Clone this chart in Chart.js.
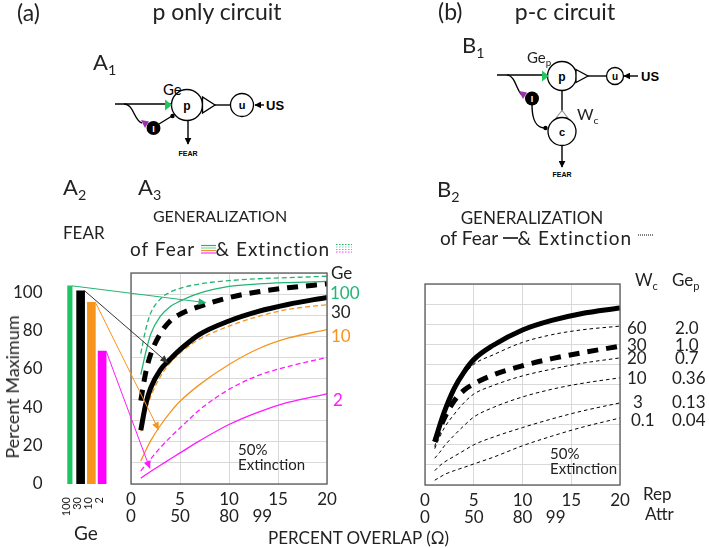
<!DOCTYPE html>
<html>
<head>
<meta charset="utf-8">
<script src="https://cdn.jsdelivr.net/npm/chart.js@4.4.1/dist/chart.umd.min.js"></script>
<style>
  body { margin: 0; background: #fff; }
  #page { position: relative; width: 709px; height: 548px; overflow: hidden; font-family: Lato, "Open Sans", sans-serif; color: #222; }
  #page canvas { position: absolute; }
  .t { position: absolute; white-space: nowrap; line-height: 1; }
  .c { transform: translateX(-50%); }
  .row { display: flex; align-items: center; }
  .wide { letter-spacing: 1px; }
  sub { font-size: 65%; vertical-align: -0.35em; line-height: 0; }
</style>
</head>
<body>
<div id="page">
  <!-- circuit diagrams -->
  <svg width="709" height="200" style="position:absolute;left:0;top:0" font-family="'Liberation Sans', Arial, sans-serif">
    <defs>
      <marker id="ah" viewBox="0 0 10 10" refX="9" refY="5" markerWidth="5" markerHeight="5" orient="auto">
        <path d="M0,0 L10,5 L0,10 z" fill="#000"/>
      </marker>
    </defs>
    <!-- A1 -->
    <g stroke="#000" stroke-width="1.4" fill="none">
      <path d="M115,104 H171"/>
      <path d="M124,104 C134,104 134,121 142,123"/>
      <path d="M159,124 L172,116"/>
      <path d="M215,105 H231"/>
      <path d="M188,121 V144" marker-end="url(#ah)"/>
      <path d="M264,105 H255" marker-end="url(#ah)"/>
    </g>
    <circle cx="187" cy="105" r="15.5" fill="#fff" stroke="#000" stroke-width="1.3"/>
    <path d="M202.5,97 L202.5,113 L215,105 Z" fill="#fff" stroke="#000" stroke-width="1.3"/>
    <circle cx="242" cy="105" r="11.5" fill="#fff" stroke="#000" stroke-width="1.3"/>
    <path d="M165,99.5 L172,105 L165,110.5 Z" fill="#22c55e"/>
    <path d="M141,120 L149,121.5 L145,128 Z" fill="#9b2fae"/>
    <circle cx="153.5" cy="128" r="7" fill="#000"/>
    <circle cx="172.5" cy="116" r="2.2" fill="#000"/>
    <text x="187" y="109.5" font-size="12" font-weight="bold" text-anchor="middle">p</text>
    <text x="242" y="109" font-size="11" font-weight="bold" text-anchor="middle">u</text>
    <text x="153.5" y="131.5" font-size="9" font-weight="bold" fill="#fff" text-anchor="middle">I</text>
    <text x="266" y="110" font-size="13" font-weight="bold">US</text>
    <text x="188" y="156" font-size="7" font-weight="bold" text-anchor="middle">FEAR</text>
    <text x="163" y="95" font-size="15" font-family="Lato, sans-serif">Ge</text>

    <!-- B1 -->
    <g stroke="#000" stroke-width="1.4" fill="none">
      <path d="M497,75 H548"/>
      <path d="M507,75 C515,75 517,92 522,95"/>
      <path d="M532,105 C532,122 537,127 544,128"/>
      <path d="M588,76 H607"/>
      <path d="M562,90.5 V112"/>
      <path d="M562,145 V167" marker-end="url(#ah)"/>
      <path d="M638,76 H624" marker-end="url(#ah)"/>
    </g>
    <circle cx="562" cy="76" r="14.5" fill="#fff" stroke="#000" stroke-width="1.3"/>
    <path d="M576,69.5 L576,82.5 L588,76 Z" fill="#fff" stroke="#000" stroke-width="1.3"/>
    <circle cx="615" cy="76" r="8.5" fill="#fff" stroke="#000" stroke-width="1.3"/>
    <path d="M556.5,117.5 L567.5,117.5 L562,110.5 Z" fill="#fff" stroke="#999" stroke-width="1.1"/>
    <circle cx="562" cy="131.5" r="14" fill="#fff" stroke="#000" stroke-width="1.3"/>
    <path d="M542,70.5 L549,76 L542,81.5 Z" fill="#22c55e"/>
    <path d="M519,91 L527,92.5 L523,99 Z" fill="#9b2fae"/>
    <circle cx="532" cy="98.5" r="7" fill="#000"/>
    <circle cx="545.5" cy="128" r="2.2" fill="#000"/>
    <text x="562" y="80.5" font-size="12" font-weight="bold" text-anchor="middle">p</text>
    <text x="615" y="80" font-size="10" font-weight="bold" text-anchor="middle">u</text>
    <text x="562" y="135.5" font-size="11" font-weight="bold" text-anchor="middle">c</text>
    <text x="532" y="102" font-size="9" font-weight="bold" fill="#fff" text-anchor="middle">I</text>
    <text x="641" y="81" font-size="13" font-weight="bold">US</text>
    <text x="562" y="177" font-size="7" font-weight="bold" text-anchor="middle">FEAR</text>
  </svg>

  <canvas id="barChart" width="110" height="285" style="left:0;top:263px"></canvas>
  <canvas id="pChart" width="255" height="293" style="left:112px;top:255px"></canvas>
  <canvas id="pcChart" width="240" height="282" style="left:405px;top:266px"></canvas>
  <canvas id="arrows" width="709" height="548" style="left:0;top:0"></canvas>

  <div class="t" style="left:17px;top:1px;font-size:23px">(a)</div>
  <div class="t c" style="left:217px;top:0;font-size:23px">p only circuit</div>
  <div class="t" style="left:438px;top:0;font-size:23px">(b)</div>
  <div class="t c" style="left:565px;top:0;font-size:23px">p-c circuit</div>
  <div class="t" style="left:93px;top:51px;font-size:22px">A<sub>1</sub></div>
  <div class="t" style="left:462px;top:34px;font-size:22px">B<sub>1</sub></div>
  <div class="t" style="left:527px;top:50px;font-size:15px">Ge<sub>p</sub></div>
  <div class="t" style="left:577px;top:106px;font-size:16px">W<sub>c</sub></div>
  <div class="t" style="left:63px;top:176px;font-size:22px">A<sub>2</sub></div>
  <div class="t" style="left:138px;top:176px;font-size:22px">A<sub>3</sub></div>
  <div class="t" style="left:437px;top:178px;font-size:22px">B<sub>2</sub></div>
  <div class="t" style="left:63px;top:224px;font-size:17px">FEAR</div>

  <div class="t c" style="left:220px;top:208px;font-size:16px">GENERALIZATION</div>
  <div class="t row" style="left:130px;top:239px;font-size:19px">
    <span class="wide">of Fear&nbsp;</span>
    <svg width="15" height="10"><g stroke-width="1.2"><path d="M0,1.5H15" stroke="#22b573"/><path d="M0,4H15" stroke="#7fd6b0"/><path d="M0,6.5H15" stroke="#f7941d"/><path d="M0,9H15" stroke="#ff33ff"/></g></svg>
    <span class="wide">&amp; Extinction&nbsp;</span>
    <svg width="16" height="12"><g stroke-width="1.2" stroke-dasharray="1.5 1.5"><path d="M0,1.5H16" stroke="#22b573"/><path d="M0,4H16" stroke="#7fd6b0"/><path d="M0,6.5H16" stroke="#f7941d"/><path d="M0,9H16" stroke="#ff33ff"/></g></svg>
  </div>
  <div class="t c" style="left:532px;top:209px;font-size:17px">GENERALIZATION</div>
  <div class="t row" style="left:440px;top:228px;font-size:19px">
    <span>of Fear&nbsp;</span>
    <svg width="15" height="6"><path d="M0,3H15" stroke="#000" stroke-width="1.5"/></svg>
    <span class="wide">&amp; Extinction&nbsp;</span>
    <svg width="15" height="10"><path d="M0,2H15" stroke="#000" stroke-width="1" stroke-dasharray="1 1"/></svg>
  </div>

  <div class="t" style="left:12px;top:387px;font-size:18px;transform:translate(-50%,-50%) rotate(-90deg)">Percent Maximum</div>

  <div class="t" style="left:331px;top:264px;font-size:17px">Ge</div>
  <div class="t" style="left:330px;top:284px;font-size:17px;color:#22b573">100</div>
  <div class="t" style="left:331px;top:303px;font-size:17px">30</div>
  <div class="t" style="left:331px;top:327px;font-size:17px;color:#f7941d">10</div>
  <div class="t" style="left:333px;top:391px;font-size:17px;color:#ff1aff">2</div>
  <div class="t" style="left:238px;top:442px;font-size:15px">50%</div>
  <div class="t" style="left:238px;top:457px;font-size:15px">Extinction</div>

  <div class="t" style="left:635px;top:271px;font-size:17px">W<sub>c</sub></div>
  <div class="t" style="left:672px;top:271px;font-size:17px">Ge<sub>p</sub></div>
  <div class="t" style="left:627px;top:319px;font-size:17px">60</div>
  <div class="t" style="left:627px;top:336px;font-size:17px">30</div>
  <div class="t" style="left:627px;top:349px;font-size:17px">20</div>
  <div class="t" style="left:627px;top:369px;font-size:17px">10</div>
  <div class="t" style="left:633px;top:393px;font-size:17px">3</div>
  <div class="t" style="left:631px;top:411px;font-size:17px">0.1</div>
  <div class="t" style="left:675px;top:319px;font-size:17px">2.0</div>
  <div class="t" style="left:675px;top:336px;font-size:17px">1.0</div>
  <div class="t" style="left:675px;top:349px;font-size:17px">0.7</div>
  <div class="t" style="left:672px;top:369px;font-size:17px">0.36</div>
  <div class="t" style="left:672px;top:393px;font-size:17px">0.13</div>
  <div class="t" style="left:672px;top:411px;font-size:17px">0.04</div>
  <div class="t" style="left:550px;top:446px;font-size:15px">50%</div>
  <div class="t" style="left:550px;top:461px;font-size:15px">Extinction</div>
  <div class="t" style="left:643px;top:485px;font-size:17px">Rep</div>
  <div class="t" style="left:645px;top:505px;font-size:17px">Attr</div>
  <div class="t" style="left:268px;top:529px;font-size:17px">PERCENT OVERLAP (Ω)</div>
</div>

<script>
  // A2: fear at the end of conditioning, one bar per Ge
  const geLabels = ['100', '30', '10', '2'];
  const fearPeak = [103.3, 100.7, 94.7, 69.3];
  const geColors = ['#1ec463', '#000000', '#f7941d', '#ff00ff'];
  const pctTicks = [0, 20, 40, 60, 80, 100];

  // shared x grid (percent overlap, Rep scale)
  const overlapRep = [1, 1.5, 2, 3, 4, 5, 7, 10, 13, 16, 20];
  const attrPos = [0, 5, 10, 13.4];
  const attrLabels = ['0', '50', '80', '99'];

  // A3: p only circuit, fear (solid) and extinction (dashed) per Ge
  const fearGe100 = [57, 68.5, 78, 87.5, 92.5, 95.3, 99.5, 103, 104.3, 105, 105.6];
  const extGe100  = [68, 80.5, 89, 96.5, 100, 102, 104.3, 106, 107, 107.6, 108.3];
  const fearGe30  = [28, 41.5, 50, 59.5, 65, 70, 78, 85, 90, 93.6, 97.3];
  const extGe30   = [43.5, 58, 67.5, 78.5, 85, 88.5, 92.6, 97.2, 100.2, 102.3, 104.3];
  const fearGe10  = [12, 17.5, 22.5, 30.5, 37.3, 43.1, 51.8, 62.3, 70.5, 76, 80.5];
  const extGe10   = [27.5, 37.8, 45.5, 56, 63.2, 68.3, 75.5, 82.3, 87.4, 91, 93.5];
  const fearGe2   = [3, 4.8, 6.5, 9.8, 13, 16.2, 22.5, 31, 37.5, 42.5, 47];
  const extGe2    = [6.8, 10, 13, 19, 24.3, 29.2, 38.7, 49.3, 56.6, 61.2, 66];

  // B2: p-c circuit, fear and extinction for each Wc
  const fearPC  = [22.6, 31, 38.5, 50.5, 59, 65.5, 73, 81, 86, 89.5, 92.5];
  const extWc30 = [22.6, 29, 35, 44, 49.5, 52.8, 57.5, 62.3, 66, 69, 72.5];
  const extWc60 = [20, 30, 38, 49, 57.5, 63, 68, 74.5, 78.5, 81, 83];
  const extWc20 = [19, 25, 30, 37, 43, 47.5, 52, 57, 60.5, 63.5, 66.4];
  const extWc10 = [14, 17, 20.5, 26, 31, 35.5, 40.5, 46, 50, 53, 56];
  const extWc3  = [7.5, 10, 12, 15, 18, 21, 25, 30, 34.5, 38.5, 42.9];
  const extWc01 = [2.5, 4, 5.5, 7.5, 9.2, 11, 14.5, 20.5, 25.5, 30, 35];

  // where each arrow from a bar lands on the A3 curves
  const arrowTargets = [[7.7, 94.5], [3.8, 63], [2.85, 28], [1.95, 7.8]];

  const curveGreen = '#22b573';
  const curveOrange = '#f7941d';
  const curveMagenta = '#ff1aff';
  const gridColor = '#d9d9d9';

  Chart.defaults.font.family = 'Lato, "Open Sans", sans-serif';
  Chart.defaults.color = '#222';

  // keep the plot boxes where the layout padding puts them
  function noPad(s) { s.paddingLeft = 0; s.paddingRight = 0; s.paddingTop = 0; s.paddingBottom = 0; }

  const frame = {
    id: 'frame',
    afterDraw(chart) {
      const a = chart.chartArea, ctx = chart.ctx;
      ctx.save();
      ctx.strokeStyle = '#5a5a5a';
      ctx.lineWidth = 1.3;
      ctx.strokeRect(a.left, a.top, a.right - a.left, a.bottom - a.top);
      ctx.restore();
    }
  };

  const baseOpts = {
    animation: false,
    responsive: false,
    events: [],
    plugins: { legend: { display: false }, tooltip: { enabled: false } }
  };

  const barChart = new Chart(document.getElementById('barChart'), {
    type: 'bar',
    data: {
      labels: geLabels,
      datasets: [
        { data: fearPeak.map((v, i) => i === 0 ? v : null), backgroundColor: geColors, barThickness: 4.5, grouped: false },
        { data: fearPeak.map((v, i) => i === 0 ? null : v), backgroundColor: geColors, barThickness: 8, grouped: false }
      ]
    },
    options: {
      ...baseOpts,
      layout: { padding: { top: 10, right: 2.5 } },
      scales: {
        x: {
          grid: { display: false },
          border: { display: false },
          ticks: { autoSkip: false, minRotation: 90, maxRotation: 90, padding: 5, labelOffset: -3, font: { size: 11 } },
          title: { display: true, text: 'Ge', font: { size: 19 }, padding: { top: 0, bottom: 3 } },
          afterFit: s => { s.height = 64; noPad(s); }
        },
        y: {
          min: 0, max: 110,
          grid: { display: false },
          border: { display: false },
          afterBuildTicks: s => { s.ticks = pctTicks.map(v => ({ value: v })); },
          ticks: { padding: 14, font: { size: 17 } },
          afterFit: s => { s.width = 64.5; noPad(s); }
        }
      }
    }
  });

  function curve(values, color, width, dash) {
    return {
      data: overlapRep.map((x, i) => ({ x: x, y: values[i] })),
      borderColor: color,
      borderWidth: width,
      borderDash: dash,
      pointRadius: 0,
      fill: false,
      cubicInterpolationMode: 'monotone'
    };
  }

  function overlapScales(yMax, yStep) {
    return {
      x: {
        type: 'linear', min: 0, max: 20, position: 'bottom',
        grid: { color: gridColor, drawTicks: false },
        border: { display: false },
        ticks: { stepSize: 5, padding: 7, maxRotation: 0, font: { size: 17, lineHeight: 1 } },
        afterFit: s => { s.height = 24; noPad(s); }
      },
      x2: {
        type: 'linear', min: 0, max: 20, position: 'bottom',
        grid: { display: false, drawTicks: false },
        border: { display: false },
        afterBuildTicks: s => { s.ticks = attrPos.map(v => ({ value: v })); },
        ticks: { autoSkip: false, padding: 0, maxRotation: 0, font: { size: 17, lineHeight: 1 }, callback: (v, i) => attrLabels[i] },
        afterFit: s => { s.height = 18; noPad(s); }
      },
      y: {
        min: 0, max: yMax,
        grid: { color: gridColor, drawTicks: false },
        border: { display: false },
        ticks: { display: false, stepSize: yStep },
        afterFit: s => { s.width = 0; noPad(s); }
      }
    };
  }

  const pChart = new Chart(document.getElementById('pChart'), {
    type: 'line',
    data: {
      datasets: [
        curve(fearGe30, '#000', 5, []),
        curve(extGe30, '#000', 5, [11, 8]),
        curve(fearGe100, curveGreen, 1.3, []),
        curve(extGe100, curveGreen, 1.3, [5, 3]),
        curve(fearGe10, curveOrange, 1.3, []),
        curve(extGe10, curveOrange, 1.3, [5, 3]),
        curve(fearGe2, curveMagenta, 1.3, []),
        curve(extGe2, curveMagenta, 1.3, [5, 3])
      ]
    },
    options: {
      ...baseOpts,
      layout: { padding: { left: 19, top: 18, right: 40, bottom: 22 } },
      scales: overlapScales(110, 11)
    },
    plugins: [frame]
  });

  const pcChart = new Chart(document.getElementById('pcChart'), {
    type: 'line',
    data: {
      datasets: [
        curve(fearPC, '#000', 5, []),
        curve(extWc30, '#000', 5, [11, 8]),
        curve(extWc60, '#000', 1, [3.5, 3]),
        curve(extWc20, '#000', 1, [3.5, 3]),
        curve(extWc10, '#000', 1, [3.5, 3]),
        curve(extWc3, '#000', 1, [3.5, 3]),
        curve(extWc01, '#000', 1, [3.5, 3])
      ]
    },
    options: {
      ...baseOpts,
      layout: { padding: { left: 20, top: 18, right: 25, bottom: 21 } },
      scales: overlapScales(105, 10.5)
    },
    plugins: [frame]
  });

  // arrows from each bar top to its curve in A3
  function drawArrows() {
    const ctx = document.getElementById('arrows').getContext('2d');
    const page = document.getElementById('page').getBoundingClientRect();
    const bBox = barChart.canvas.getBoundingClientRect();
    const lBox = pChart.canvas.getBoundingClientRect();
    const arrowColors = [curveGreen, '#333', curveOrange, curveMagenta];
    geLabels.forEach((g, i) => {
      const bar = barChart.getDatasetMeta(i === 0 ? 0 : 1).data[i];
      const x0 = bBox.left - page.left + bar.x + bar.width / 2;
      const y0 = bBox.top - page.top + bar.y;
      const x1 = lBox.left - page.left + pChart.scales.x.getPixelForValue(arrowTargets[i][0]);
      const y1 = lBox.top - page.top + pChart.scales.y.getPixelForValue(arrowTargets[i][1]);
      const ang = Math.atan2(y1 - y0, x1 - x0);
      ctx.strokeStyle = arrowColors[i];
      ctx.fillStyle = arrowColors[i];
      ctx.lineWidth = 1;
      ctx.beginPath();
      ctx.moveTo(x0, y0);
      ctx.lineTo(x1 - 6 * Math.cos(ang), y1 - 6 * Math.sin(ang));
      ctx.stroke();
      ctx.beginPath();
      ctx.moveTo(x1, y1);
      ctx.lineTo(x1 - 8 * Math.cos(ang) + 3.5 * Math.sin(ang), y1 - 8 * Math.sin(ang) - 3.5 * Math.cos(ang));
      ctx.lineTo(x1 - 8 * Math.cos(ang) - 3.5 * Math.sin(ang), y1 - 8 * Math.sin(ang) + 3.5 * Math.cos(ang));
      ctx.closePath();
      ctx.fill();
    });
  }
  drawArrows();
</script>
</body>
</html>
